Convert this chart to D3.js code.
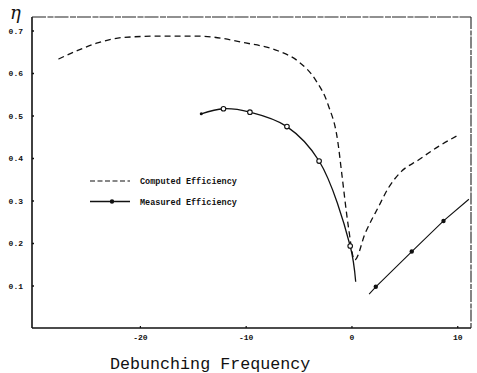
<!DOCTYPE html>
<html><head><meta charset="utf-8">
<script src="https://cdn.jsdelivr.net/npm/d3@7"></script>
<style>body{margin:0;background:#fff}svg{display:block}</style>
</head><body>
<script>
// Computed efficiency (dashed)
const computedX = [-27.7, -26, -24, -21.5, -18, -14.5, -10, -6.9, -5.0, -3.4, -2.2, -1.3, -0.9, -0.3, 0.3, 1.3, 2.55, 3.5, 4.7, 6.3, 8.2, 10.1];
const computedY = [0.633, 0.652, 0.671, 0.684, 0.687, 0.687, 0.671, 0.652, 0.627, 0.584, 0.525, 0.44, 0.36, 0.24, 0.16, 0.223, 0.285, 0.33, 0.368, 0.395, 0.427, 0.454];
// Measured efficiency, left branch (open markers)
const measLeftX = [-14.2, -12.1, -9.6, -6.1, -3.06, -0.12, 0.4];
const measLeftY = [0.504, 0.516, 0.508, 0.474, 0.393, 0.193, 0.109];
const measLeftMarked = [false, true, true, true, true, true, false];
// Measured efficiency, right branch (filled markers)
const measRightX = [1.67, 2.3, 5.7, 8.7, 11.1];
const measRightY = [0.08, 0.097, 0.18, 0.252, 0.303];
const measRightMarked = [false, true, true, true, false];
const xTicks = [-20, -10, 0, 10];
const yTicks = [0.1, 0.2, 0.3, 0.4, 0.5, 0.6, 0.7];
const legendLabels = ["Computed Efficiency", "Measured Efficiency"];

(function () {
const W = 477, H = 373;
const svg = d3.select("body").append("svg").attr("width", W).attr("height", H);
const pL = 32, pR = 471, pT = 17, pB = 328;
const x = d3.scaleLinear().domain([-30.2, 11.3]).range([pL, pR]);
const y = d3.scaleLinear().domain([0, 0.732]).range([pB, pT]);
const mono = "'Liberation Mono', 'DejaVu Sans Mono', monospace";

// frame
svg.append("line").attr("x1", pL).attr("x2", pL).attr("y1", pT).attr("y2", pB).attr("stroke", "#111").attr("stroke-width", 1.6);
svg.append("line").attr("x1", pL).attr("x2", pR).attr("y1", pB).attr("y2", pB).attr("stroke", "#111").attr("stroke-width", 1.6);
svg.append("line").attr("x1", pL).attr("x2", pR).attr("y1", pT).attr("y2", pT).attr("stroke", "#222").attr("stroke-width", 1.1).attr("stroke-dasharray", "14,1.5,6,1");
svg.append("line").attr("x1", pR).attr("x2", pR).attr("y1", pT).attr("y2", pB).attr("stroke", "#222").attr("stroke-width", 1.1).attr("stroke-dasharray", "12,1.5,5,1");

// axes
const yAxis = d3.axisLeft(y).tickValues(yTicks).tickSize(-2).tickPadding(9).tickFormat(d3.format(".1f"));
const gy = svg.append("g").attr("transform", `translate(${pL},0)`).call(yAxis);
gy.select(".domain").remove();
gy.selectAll(".tick line").attr("stroke", "#111").attr("stroke-width", 1.5);
gy.selectAll("text").attr("font-family", mono).attr("font-size", 8).attr("font-weight", "bold").attr("fill", "#111");

const xAxis = d3.axisBottom(x).tickValues(xTicks).tickSize(-2).tickPadding(6).tickFormat(d => d < 0 ? "-" + Math.abs(d) : String(d));
const gx = svg.append("g").attr("transform", `translate(0,${pB})`).call(xAxis);
gx.select(".domain").remove();
gx.selectAll(".tick line").attr("stroke", "#111").attr("stroke-width", 1.2);
gx.selectAll("text").attr("font-family", mono).attr("font-size", 8).attr("font-weight", "bold").attr("fill", "#111");

// axis titles
svg.append("text").attr("x", 10).attr("y", 19).attr("font-family", "'DejaVu Serif', serif").attr("font-style", "italic").attr("font-size", 18).attr("fill", "#111").text("η");
svg.append("text").attr("x", 110).attr("y", 369).attr("font-family", mono).attr("font-size", 16.7).attr("fill", "#111").text("Debunching Frequency");

// computed curve
const lineGen = d3.line().x(d => x(d[0])).y(d => y(d[1])).curve(d3.curveMonotoneX);
const comp = computedX.map((v, i) => [v, computedY[i]]);
svg.append("path").attr("d", lineGen(comp)).attr("fill", "none").attr("stroke", "#111").attr("stroke-width", 1.3).attr("stroke-dasharray", "6,4");

// measured curves
const ml = measLeftX.map((v, i) => [v, measLeftY[i]]);
const mr = measRightX.map((v, i) => [v, measRightY[i]]);
const smooth = d3.line().x(d => x(d[0])).y(d => y(d[1])).curve(d3.curveCatmullRom);
svg.append("path").attr("d", smooth(ml)).attr("fill", "none").attr("stroke", "#111").attr("stroke-width", 1.3);
svg.append("path").attr("d", d3.line().x(d => x(d[0])).y(d => y(d[1]))(mr)).attr("fill", "none").attr("stroke", "#111").attr("stroke-width", 1.1);

svg.selectAll("circle.ml").data(ml.filter((d, i) => measLeftMarked[i])).enter().append("circle")
  .attr("cx", d => x(d[0])).attr("cy", d => y(d[1])).attr("r", 2.3).attr("fill", "#fff").attr("stroke", "#111").attr("stroke-width", 1.1);
svg.append("circle").attr("cx", x(measLeftX[0])).attr("cy", y(measLeftY[0])).attr("r", 1.5).attr("fill", "#111");
svg.selectAll("circle.mr").data(mr.filter((d, i) => measRightMarked[i])).enter().append("circle")
  .attr("cx", d => x(d[0])).attr("cy", d => y(d[1])).attr("r", 2.2).attr("fill", "#111");

// legend
const lg = svg.append("g");
lg.append("line").attr("x1", 90).attr("x2", 130).attr("y1", 181).attr("y2", 181).attr("stroke", "#111").attr("stroke-width", 1.2).attr("stroke-dasharray", "5,2.5");
lg.append("line").attr("x1", 90).attr("x2", 130).attr("y1", 201.5).attr("y2", 201.5).attr("stroke", "#111").attr("stroke-width", 1.3);
lg.append("circle").attr("cx", 112).attr("cy", 201.5).attr("r", 2.2).attr("fill", "#111");
lg.selectAll("text").data(legendLabels).enter().append("text")
  .attr("x", 140).attr("y", (d, i) => 184 + i * 20.5).attr("font-family", mono).attr("font-size", 8.5).attr("font-weight", "bold").attr("fill", "#111").text(d => d);
})();
</script>
</body></html>
